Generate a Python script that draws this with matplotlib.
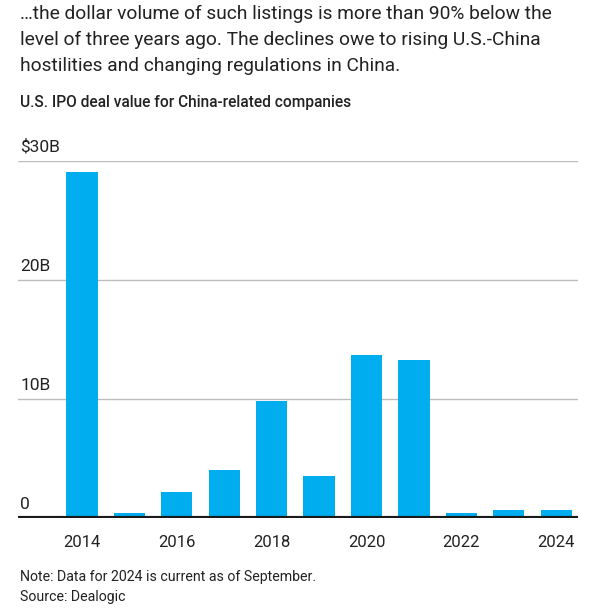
import matplotlib.pyplot as plt

years = [2014, 2015, 2016, 2017, 2018, 2019, 2020, 2021, 2022, 2023, 2024]
values = [29.1, 0.4, 2.2, 4.0, 9.8, 3.5, 13.7, 13.3, 0.45, 0.65, 0.65]
tick_years = [2014, 2016, 2018, 2020, 2022, 2024]
y_ticks = [0, 10, 20, 30]
y_labels = ['0', '10B', '20B', '$30B']

plt.rcParams['font.family'] = ['Roboto', 'DejaVu Sans']
text_col = '#222222'

fig = plt.figure(figsize=(5.89, 6.14), dpi=100)
ax = fig.add_axes([18/589, 1 - 518/614, 560/589, (518 - 161)/614])

ax.bar(years, values, width=0.66, color='#00aeef', zorder=2)
ax.set_xlim(2012.65, 2024.46)
ax.set_ylim(0, 30)

for v in y_ticks[1:]:
    ax.axhline(v, color='#bdbdbd', lw=1, zorder=1)
ax.axhline(0, color='#1a1a1a', lw=3, zorder=3)

for v, lab in zip(y_ticks, y_labels):
    ax.annotate(lab, xy=(0.004, v), xycoords=ax.get_yaxis_transform(),
                xytext=(0, 4.5), textcoords='offset points',
                ha='left', va='bottom', fontsize=12.5, color=text_col)

ax.set_xticks(tick_years)
ax.set_xticklabels([str(y) for y in tick_years], fontsize=12, color=text_col)
ax.tick_params(axis='x', length=0, pad=12)
ax.set_yticks([])
for s in ax.spines.values():
    s.set_visible(False)

fig.text(20/589, 1 - 5/614,
         '…the dollar volume of such listings is more than 90% below the\n'
         'level of three years ago. The declines owe to rising U.S.-China\n'
         'hostilities and changing regulations in China.',
         ha='left', va='top', fontsize=13.8, color=text_col, linespacing=1.55)
fig.text(20/589, 1 - 102/614, 'U.S. IPO deal value for China-related companies',
         ha='left', va='center', fontsize=11.2, fontweight='medium', color=text_col)
fig.text(20/589, 1 - 577/614, 'Note: Data for 2024 is current as of September.',
         ha='left', va='center', fontsize=10.2, color=text_col)
fig.text(20/589, 1 - 597/614, 'Source: Dealogic',
         ha='left', va='center', fontsize=10.2, color=text_col)

fig.savefig('out.png', dpi=100)
